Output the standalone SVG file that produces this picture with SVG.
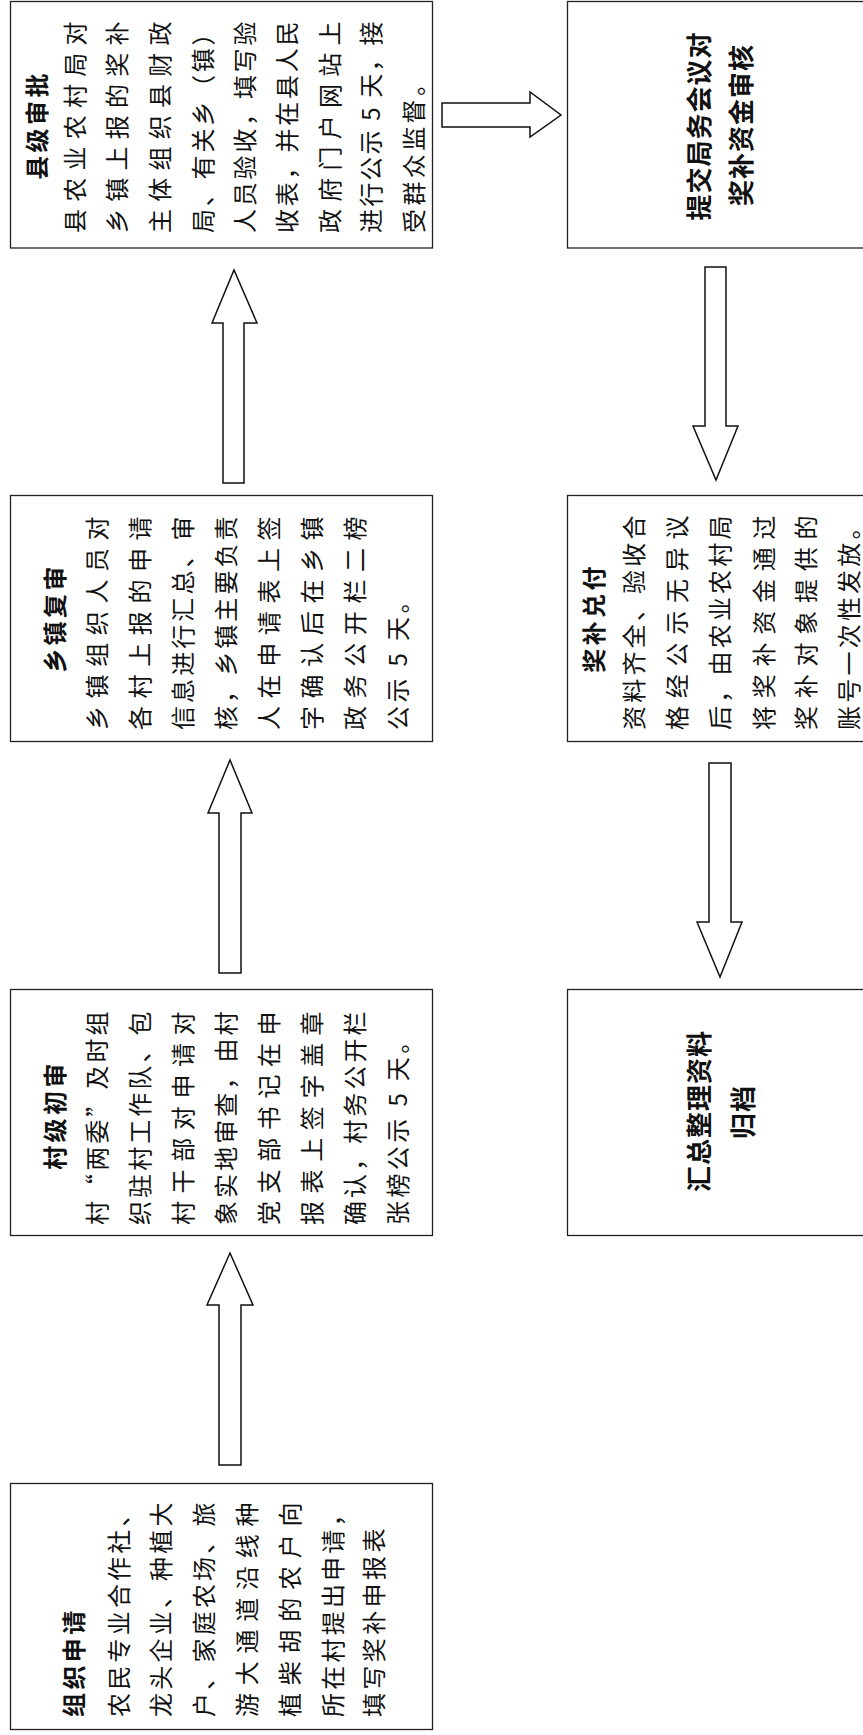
<svg xmlns="http://www.w3.org/2000/svg" width="863" height="1735" viewBox="0 0 863 1735">
<style>
.box{fill:#fff;stroke:#222;stroke-width:1.3}
.arr{fill:#fff;stroke:#111;stroke-width:1.5;stroke-linejoin:miter}
text{font-family:"Noto Sans CJK SC","Noto Sans CJK JP",sans-serif;dominant-baseline:central;fill:#111}
.t{font-size:24px;font-weight:bold;letter-spacing:3.4px}
.b{font-size:24px;letter-spacing:3.4px}
.c{font-size:26px;font-weight:bold;letter-spacing:1px;text-anchor:middle}
.m{text-anchor:middle}
</style>
<rect width="863" height="1735" fill="#fff"/>
<g id="connectors">
<polygon class="arr" points="219,1465 219,1305 207,1305 230,1253 253,1305 241,1305 241,1465"/>
<polygon class="arr" points="219,973 219,813 208,813 230,760 252,813 241,813 241,973"/>
<polygon class="arr" points="223,483 223,323 212,323 234,270 257,323 244,323 244,483"/>
<polygon class="arr" points="442,103 530,103 530,92 561,115 530,137 530,127 442,127"/>
<polygon class="arr" points="705,267 726,267 726,426 738,426 716,480 693,426 705,426"/>
<polygon class="arr" points="709,763 731,763 731,922 742,922 720,977 697,922 709,922"/>
</g>
<g id="n1">
<rect class="box" x="10.5" y="1483.5" width="422" height="246"/>
<text class="t" transform="translate(72,1717) rotate(-90)">组织申请</text>
<text class="b" transform="translate(117,1717) rotate(-90)" textLength="218" lengthAdjust="spacing">农民专业合作社、</text>
<text class="b" transform="translate(159,1717) rotate(-90)" textLength="218" lengthAdjust="spacing">龙头企业、种植大</text>
<text class="b" transform="translate(202,1717) rotate(-90)" textLength="218" lengthAdjust="spacing">户、家庭农场、旅</text>
<text class="b" transform="translate(245,1717) rotate(-90)" textLength="218" lengthAdjust="spacing">游大通道沿线种</text>
<text class="b" transform="translate(288,1717) rotate(-90)" textLength="218" lengthAdjust="spacing">植柴胡的农户向</text>
<text class="b" transform="translate(331,1717) rotate(-90)" textLength="218" lengthAdjust="spacing">所在村提出申请，</text>
<text class="b" transform="translate(372,1717) rotate(-90)">填写奖补申报表</text>
</g>
<g id="n2">
<rect class="box" x="10.5" y="989.5" width="422" height="246"/>
<text class="t m" transform="translate(53,1115) rotate(-90)">村级初审</text>
<text class="b" transform="translate(95,1225) rotate(-90)" textLength="217" lengthAdjust="spacing">村“两委”及时组</text>
<text class="b" transform="translate(138,1225) rotate(-90)" textLength="217" lengthAdjust="spacing">织驻村工作队、包</text>
<text class="b" transform="translate(181,1225) rotate(-90)" textLength="217" lengthAdjust="spacing">村干部对申请对</text>
<text class="b" transform="translate(224,1225) rotate(-90)" textLength="217" lengthAdjust="spacing">象实地审查，由村</text>
<text class="b" transform="translate(267,1225) rotate(-90)" textLength="217" lengthAdjust="spacing">党支部书记在申</text>
<text class="b" transform="translate(310,1225) rotate(-90)" textLength="217" lengthAdjust="spacing">报表上签字盖章</text>
<text class="b" transform="translate(353,1225) rotate(-90)" textLength="217" lengthAdjust="spacing">确认，村务公开栏</text>
<text class="b" transform="translate(396,1225) rotate(-90)">张榜公示 5 天。</text>
</g>
<g id="n3">
<rect class="box" x="10.5" y="495.5" width="422" height="246"/>
<text class="t m" transform="translate(53,618) rotate(-90)">乡镇复审</text>
<text class="b" transform="translate(95,730) rotate(-90)" textLength="217" lengthAdjust="spacing">乡镇组织人员对</text>
<text class="b" transform="translate(138,730) rotate(-90)" textLength="217" lengthAdjust="spacing">各村上报的申请</text>
<text class="b" transform="translate(181,730) rotate(-90)" textLength="217" lengthAdjust="spacing">信息进行汇总、审</text>
<text class="b" transform="translate(224,730) rotate(-90)" textLength="217" lengthAdjust="spacing">核，乡镇主要负责</text>
<text class="b" transform="translate(267,730) rotate(-90)" textLength="217" lengthAdjust="spacing">人在申请表上签</text>
<text class="b" transform="translate(310,730) rotate(-90)" textLength="217" lengthAdjust="spacing">字确认后在乡镇</text>
<text class="b" transform="translate(353,730) rotate(-90)" textLength="217" lengthAdjust="spacing">政务公开栏二榜</text>
<text class="b" transform="translate(396,730) rotate(-90)">公示 5 天。</text>
</g>
<g id="n4">
<rect class="box" x="10.5" y="1.5" width="422" height="246.5"/>
<text class="t m" transform="translate(35,125) rotate(-90)">县级审批</text>
<text class="b" transform="translate(73,233) rotate(-90)" textLength="215" lengthAdjust="spacing">县农业农村局对</text>
<text class="b" transform="translate(115,233) rotate(-90)" textLength="215" lengthAdjust="spacing">乡镇上报的奖补</text>
<text class="b" transform="translate(158,233) rotate(-90)" textLength="215" lengthAdjust="spacing">主体组织县财政</text>
<text class="b" transform="translate(201,233) rotate(-90)" textLength="215" lengthAdjust="spacing">局、有关乡（镇）</text>
<text class="b" transform="translate(243,233) rotate(-90)" textLength="215" lengthAdjust="spacing">人员验收，填写验</text>
<text class="b" transform="translate(285,233) rotate(-90)" textLength="215" lengthAdjust="spacing">收表，并在县人民</text>
<text class="b" transform="translate(328,233) rotate(-90)" textLength="215" lengthAdjust="spacing">政府门户网站上</text>
<text class="b" transform="translate(369,233) rotate(-90)" textLength="215" lengthAdjust="spacing">进行公示 5 天，接</text>
<text class="b" transform="translate(412,233) rotate(-90)">受群众监督。</text>
</g>
<g id="n5">
<rect class="box" x="567.5" y="1.5" width="300" height="246.5"/>
<text class="c" transform="translate(697,126) rotate(-90)">提交局务会议对</text>
<text class="c" transform="translate(739,125) rotate(-90)">奖补资金审核</text>
</g>
<g id="n6">
<rect class="box" x="567.5" y="495.5" width="300" height="246"/>
<text class="t m" transform="translate(592,618) rotate(-90)">奖补兑付</text>
<text class="b" transform="translate(632,730) rotate(-90)" textLength="218" lengthAdjust="spacing">资料齐全、验收合</text>
<text class="b" transform="translate(675,730) rotate(-90)" textLength="218" lengthAdjust="spacing">格经公示无异议</text>
<text class="b" transform="translate(718,730) rotate(-90)" textLength="218" lengthAdjust="spacing">后，由农业农村局</text>
<text class="b" transform="translate(762,730) rotate(-90)" textLength="218" lengthAdjust="spacing">将奖补资金通过</text>
<text class="b" transform="translate(804,730) rotate(-90)" textLength="218" lengthAdjust="spacing">奖补对象提供的</text>
<text class="b" transform="translate(847,730) rotate(-90)" textLength="218" lengthAdjust="spacing">账号一次性发放。</text>
</g>
<g id="n7">
<rect class="box" x="567.5" y="989.5" width="300" height="246"/>
<text class="c" transform="translate(697,1111) rotate(-90)">汇总整理资料</text>
<text class="c" transform="translate(741,1112) rotate(-90)">归档</text>
</g>
</svg>
